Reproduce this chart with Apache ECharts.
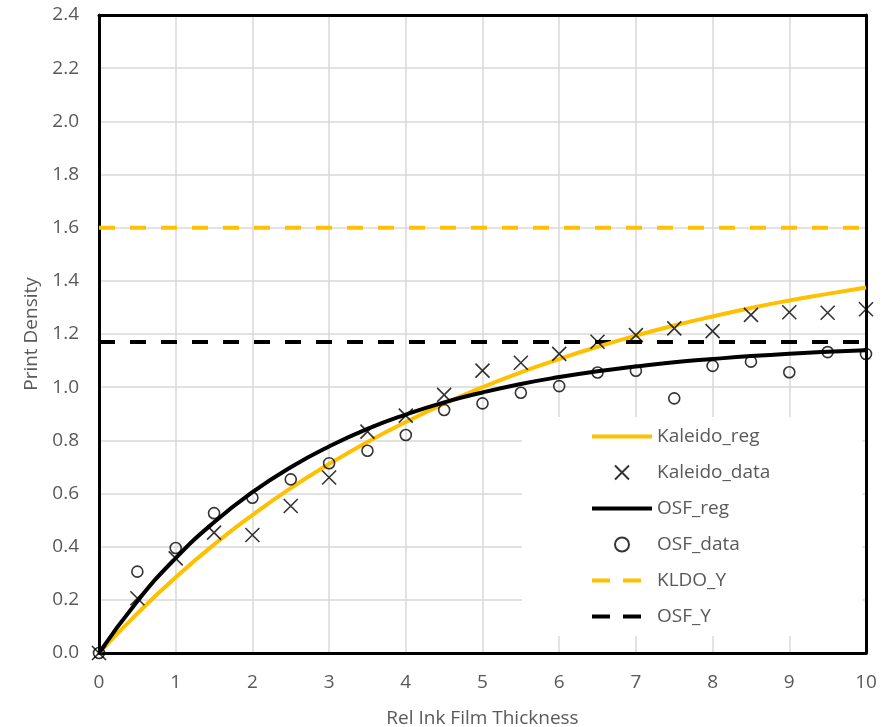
<!DOCTYPE html>
<html>
<head>
<meta charset="utf-8">
<script src="https://cdn.jsdelivr.net/npm/echarts@6/dist/echarts.min.js"></script>
<style>
  html, body { margin: 0; padding: 0; background: #fff; }
  #chart { width: 889px; height: 727px; }
</style>
</head>
<body>
<div id="chart"></div>
<script>
// x positions of the measurements
var xs = [0, 0.5, 1, 1.5, 2, 2.5, 3, 3.5, 4, 4.5, 5, 5.5, 6, 6.5, 7, 7.5, 8, 8.5, 9, 9.5, 10];

var kaleidoData = [0, 0.206, 0.356, 0.453, 0.444, 0.553, 0.66, 0.833, 0.893, 0.971, 1.062,
  1.092, 1.125, 1.171, 1.196, 1.221, 1.211, 1.272, 1.282, 1.28, 1.293];
var osfData = [0, 0.306, 0.395, 0.526, 0.584, 0.653, 0.714, 0.761, 0.82, 0.914, 0.939,
  0.979, 1.004, 1.055, 1.062, 0.958, 1.08, 1.096, 1.056, 1.132, 1.125];

// regression curves
var kaleidoReg = [0, 0.149, 0.285, 0.408, 0.519, 0.62, 0.711, 0.794, 0.869, 0.938, 1.0,
  1.056, 1.106, 1.152, 1.194, 1.232, 1.266, 1.298, 1.326, 1.351, 1.375];
var osfReg = [0, 0.195, 0.357, 0.492, 0.605, 0.699, 0.777, 0.843, 0.897, 0.943, 0.98,
  1.012, 1.038, 1.06, 1.078, 1.094, 1.106, 1.117, 1.126, 1.133, 1.139];

// limit lines
var limitX = [0, 10];
var kldoY = 1.6;
var osfY = 1.17;

function pairs(x, y) {
  var out = [];
  for (var i = 0; i < x.length; i++) out.push([x[i], y[i]]);
  return out;
}
function flat(x, v) {
  var out = [];
  for (var i = 0; i < x.length; i++) out.push([x[i], v]);
  return out;
}

var ORANGE = '#ffc000';
var TXT = '#595959';
var FONT = 'Open Sans';
var FS = 19;
var BORDER = { show: true, onZero: false, lineStyle: { color: '#000', width: 3 } };
var NOSYM = { color: 'transparent', borderColor: 'transparent', borderWidth: 0 };

var chart = echarts.init(document.getElementById('chart'));
chart.setOption({
  animation: false,
  backgroundColor: '#fff',
  textStyle: { fontFamily: FONT },
  grid: { left: 99, right: 23, top: 15, bottom: 74, outerBoundsMode: 'none' },
  legend: {
    orient: 'vertical',
    left: 522, top: 417,
    padding: [10, 92, 10, 68],
    backgroundColor: '#fff',
    itemWidth: 60, itemHeight: 14, itemGap: 17,
    textStyle: { color: TXT, fontSize: FS, fontFamily: FONT },
    data: [
      { name: 'Kaleido_reg', itemStyle: NOSYM, lineStyle: { width: 4 } },
      { name: 'Kaleido_data' },
      { name: 'OSF_reg', itemStyle: NOSYM, lineStyle: { width: 4 } },
      { name: 'OSF_data' },
      { name: 'KLDO_Y', itemStyle: NOSYM, lineStyle: { width: 4, type: [18, 13] } },
      { name: 'OSF_Y', itemStyle: NOSYM, lineStyle: { width: 4, type: [18, 13] } }
    ],
    z: 10
  },
  xAxis: [{
    type: 'value', min: 0, max: 10, interval: 1, position: 'bottom',
    name: 'Rel Ink Film Thickness', nameLocation: 'middle', nameGap: 56,
    nameTextStyle: { color: TXT, fontSize: FS },
    axisLine: BORDER, axisTick: { show: false },
    axisLabel: { color: TXT, fontSize: FS, margin: 20 },
    splitLine: { lineStyle: { color: '#d9d9d9', width: 1.5 } }
  }, {
    type: 'value', min: 0, max: 10, interval: 1, position: 'top',
    axisLine: BORDER, axisTick: { show: false }, axisLabel: { show: false },
    splitLine: { show: false }
  }],
  yAxis: [{
    type: 'value', min: 0, max: 2.4, interval: 0.2, position: 'left',
    name: 'Print Density', nameLocation: 'middle', nameGap: 57,
    nameTextStyle: { color: TXT, fontSize: FS },
    axisLine: BORDER, axisTick: { show: false },
    axisLabel: {
      color: TXT, fontSize: FS, margin: 20,
      formatter: function (v) { return v.toFixed(1); }
    },
    splitLine: { lineStyle: { color: '#d9d9d9', width: 1.5 } }
  }, {
    type: 'value', min: 0, max: 2.4, interval: 0.2, position: 'right',
    axisLine: BORDER, axisTick: { show: false }, axisLabel: { show: false },
    splitLine: { show: false }
  }],
  series: [
    {
      name: 'Kaleido_reg', type: 'line', smooth: true, symbol: 'none',
      data: pairs(xs, kaleidoReg),
      lineStyle: { color: ORANGE, width: 4 }, itemStyle: { color: ORANGE }, z: 3
    },
    {
      name: 'Kaleido_data', type: 'scatter',
      symbol: 'path://M0,0L10,10M10,0L0,10', symbolSize: 14,
      data: pairs(xs, kaleidoData),
      itemStyle: { color: 'transparent', borderColor: '#000', borderWidth: 1.6 }, z: 4
    },
    {
      name: 'OSF_reg', type: 'line', smooth: true, symbol: 'none',
      data: pairs(xs, osfReg),
      lineStyle: { color: '#000', width: 4 }, itemStyle: { color: '#000' }, z: 3
    },
    {
      name: 'OSF_data', type: 'scatter', symbol: 'circle', symbolSize: 11,
      data: pairs(xs, osfData),
      itemStyle: { color: 'transparent', borderColor: '#000', borderWidth: 1.6 }, z: 4
    },
    {
      name: 'KLDO_Y', type: 'line', symbol: 'none',
      data: flat(limitX, kldoY),
      lineStyle: { color: ORANGE, width: 4, type: [16, 15] }, itemStyle: { color: ORANGE }, z: 2
    },
    {
      name: 'OSF_Y', type: 'line', symbol: 'none',
      data: flat(limitX, osfY),
      lineStyle: { color: '#000', width: 4, type: [16, 15] }, itemStyle: { color: '#000' }, z: 2
    }
  ]
});
</script>
</body>
</html>
